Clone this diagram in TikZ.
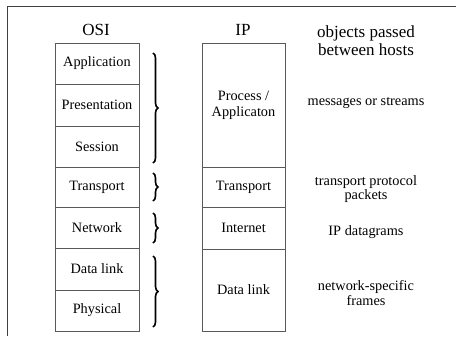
\documentclass[tikz,border=0pt]{standalone}
\usepackage{fontspec}
\setmainfont{Liberation Serif}
\usetikzlibrary{decorations.pathreplacing}
\begin{document}
\begin{tikzpicture}[x=1pt,y=-1pt,
  cell/.style={draw=black!65, line width=0.7pt, minimum width=84pt, minimum height=41pt, inner sep=0pt, font=\fontsize{14.3}{15}\selectfont, align=center},
  lbl/.style={inner sep=0pt, font=\fontsize{14.3}{14.5}\selectfont, align=center},
  head/.style={inner sep=0pt, font=\fontsize{17}{18}\selectfont, align=center},
  bigbrace/.style={decorate, decoration={brace, amplitude=5pt}, line width=1.6pt}]
\useasboundingbox (0,0) rectangle (456,346);
\fill[white] (0,0) rectangle (456,346);
% frame
\coordinate (ftl) at (7,6);
\coordinate (ftr) at (456,6);
\coordinate (fbl) at (7,336);
\draw[black!75, line width=0.8pt] (ftr) -- (ftl) -- (fbl);
% headings
\node[head] (hosi) at (96,30) {OSI};
\node[head] (hip) at (243,30) {IP};
\node[head] (hobj) at (366,41) {objects passed\\between hosts};
% OSI column
\node[cell, minimum height=41pt] (app) at (97,63.5) {Application};
\node[cell, minimum height=42pt] (pres) at (97,105) {Presentation};
\node[cell, minimum height=41pt] (sess) at (97,146.5) {Session};
\node[cell, minimum height=40pt] (trans) at (97,187) {Transport};
\node[cell, minimum height=41pt] (net) at (97,227.5) {Network};
\node[cell, minimum height=42pt] (dl) at (97,269) {Data link};
\node[cell, minimum height=41pt] (phys) at (97,310.5) {Physical};
% IP column
\node[cell, minimum width=83pt, minimum height=124pt] (ipapp) at (243.5,105) {Process /\\[1pt]Applicaton};
\node[cell, minimum width=83pt, minimum height=40pt] (iptrans) at (243.5,187) {Transport};
\node[cell, minimum width=83pt, minimum height=42pt] (ipnet) at (243.5,228) {Internet};
\node[cell, minimum width=83pt, minimum height=82pt] (ipdl) at (243.5,290) {Data link};
% objects column
\node[lbl] (omsg) at (366,103) {messages or streams};
\node[lbl] (otp) at (366,189) {transport protocol\\packets};
\node[lbl] (oip) at (366,232) {IP datagrams};
\node[lbl] (onf) at (366,293) {network-specific\\frames};
% braces
\coordinate (b1a) at (153,53);  \coordinate (b1b) at (153,163);
\coordinate (b2a) at (153,173); \coordinate (b2b) at (153,201);
\coordinate (b3a) at (153,213); \coordinate (b3b) at (153,243);
\coordinate (b4a) at (153,256); \coordinate (b4b) at (153,327);
\draw[bigbrace] (b1a) -- (b1b);
\draw[bigbrace] (b2a) -- (b2b);
\draw[bigbrace] (b3a) -- (b3b);
\draw[bigbrace] (b4a) -- (b4b);
\end{tikzpicture}
\end{document}
